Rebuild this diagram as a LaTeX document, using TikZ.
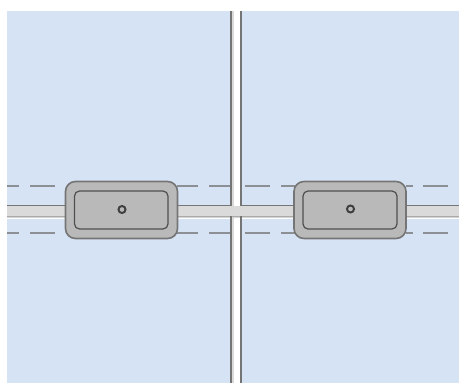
\documentclass[tikz,border=0pt]{standalone}
\usepackage{tikz}
\definecolor{panel}{HTML}{D6E3F5}
\definecolor{road}{HTML}{DADADA}
\definecolor{shade}{HTML}{B4BFD0}
\definecolor{edge}{HTML}{757575}
\definecolor{boxfill}{HTML}{B9B9B9}
\definecolor{darkedge}{HTML}{505050}
\definecolor{dashgrey}{HTML}{8C8F94}
\tikzset{
  laneDash/.style={draw=dashgrey,line width=2pt},
  curb/.style={draw=edge,line width=1.8pt},
  housing/.style={draw=edge,fill=boxfill,line width=1.6pt,rounded corners=10pt},
  innerbox/.style={draw=darkedge,fill=boxfill,line width=1.2pt,rounded corners=5pt},
  hole/.style={draw=darkedge!80!black,fill=boxfill,line width=2pt}
}
\begin{document}
\begin{tikzpicture}[x=1pt,y=-1pt]
\useasboundingbox (0,0) rectangle (459,383);
\fill[white] (0,0) rectangle (459,383);
\fill[panel] (7,11) rectangle (459,383);
% lane dashes
\foreach \y in {186,233}{
  \foreach \a/\b in {7/19,30/55,177/198,209/232,245/270,281/295,406/413,423/448}
    \draw[laneDash] (\a,\y) -- (\b,\y);
}
% horizontal road
\fill[shade] (7,215) rectangle (459,218);
\fill[road] (7,206) rectangle (459,215.5);
\draw[curb] (7,205.5) -- (231.5,205.5);
\draw[curb] (240.8,205.5) -- (459,205.5);
% vertical road
\fill[white] (232,11) rectangle (240,205.8);
\fill[white] (232,218) rectangle (240,383);
\fill[road] (232,11) rectangle (234,205.8);
\fill[road] (232,218) rectangle (234,383);
\fill[road] (232,206) rectangle (240,215.5);
\draw[curb] (231.3,11) -- (231.3,206.4);
\draw[curb] (241,11) -- (241,206.4);
\draw[curb] (231.3,216) -- (231.3,383);
\draw[curb] (241,216) -- (241,383);
% left unit
\draw[housing] (65.5,181.5) rectangle (177.5,238.5);
\draw[innerbox] (74.5,191) rectangle (168,229);
\draw[hole] (122,209.5) circle (3.5);
% right unit
\draw[housing] (294,181.5) rectangle (406,238.5);
\draw[innerbox] (303,191) rectangle (397,229);
\draw[hole] (350.5,209) circle (3.5);
\end{tikzpicture}
\end{document}
